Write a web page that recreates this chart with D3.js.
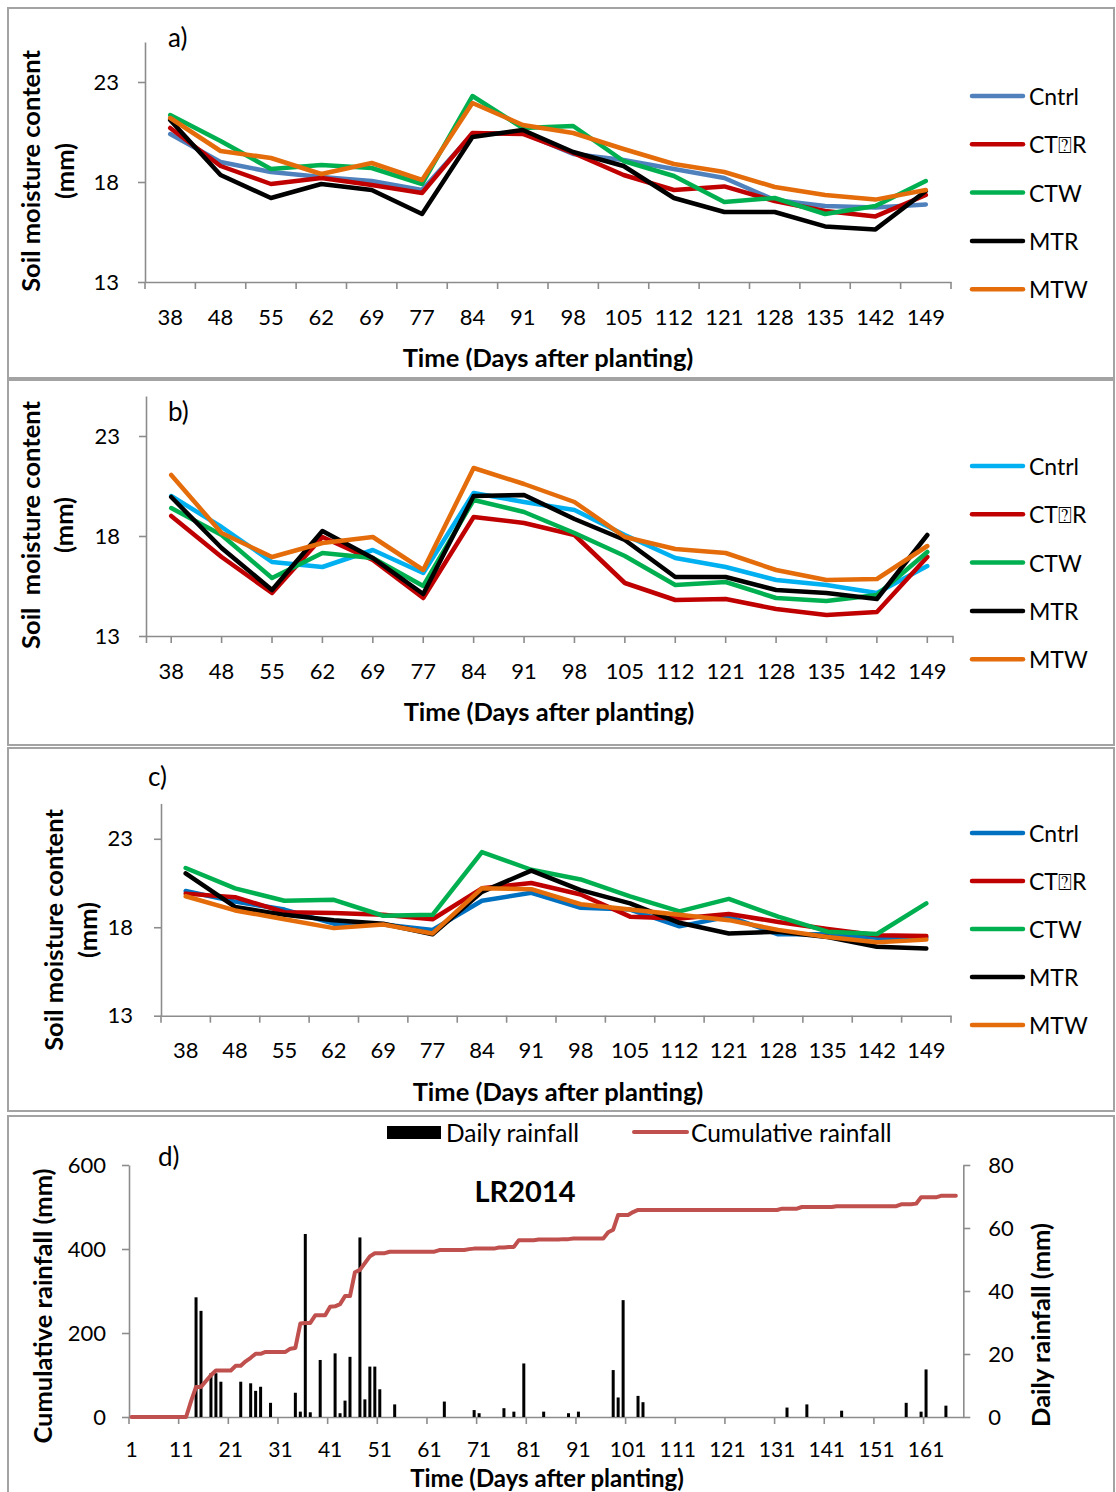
<!DOCTYPE html>
<html>
<head>
<meta charset="utf-8">
<script src="https://cdn.jsdelivr.net/npm/d3@7"></script>
<style>
  body { margin: 0; background: #fff; }
  svg { display: block; }
  text { font-family: Lato, "Open Sans", sans-serif; fill: #000; }
</style>
</head>
<body>
<svg id="chart" width="1116" height="1492"></svg>
<script>
// ---- Soil moisture data (mm), sampling days after planting ----
const sampleDays = ["38","48","55","62","69","77","84","91","98","105","112","121","128","135","142","149"];
const treatments = ["Cntrl", "CT\u2370R", "CTW", "MTR", "MTW"];
const moistureTicks = [13, 18, 23];

// a)
const cntrlA = [20.4, 19.0, 18.5, 18.25, 18.05, 17.6, 20.4, 20.45, 19.4, 19.1, 18.65, 18.2, 17.1, 16.8, 16.72, 16.88];
const ctrA   = [20.7, 18.8, 17.9, 18.2, 17.85, 17.45, 20.45, 20.4, 19.45, 18.35, 17.6, 17.78, 17.05, 16.55, 16.28, 17.35];
const ctwA   = [21.35, 20.05, 18.65, 18.85, 18.7, 17.9, 22.3, 20.7, 20.8, 19.05, 18.3, 17.0, 17.2, 16.4, 16.8, 18.05];
const mtrA   = [21.1, 18.35, 17.2, 17.9, 17.6, 16.4, 20.25, 20.6, 19.5, 18.8, 17.2, 16.5, 16.5, 15.78, 15.63, 17.55];
const mtwA   = [21.2, 19.55, 19.2, 18.4, 18.95, 18.1, 21.95, 20.85, 20.45, 19.65, 18.9, 18.5, 17.75, 17.35, 17.12, 17.6];

// b)
const cntrlB = [20.0, 18.45, 16.7, 16.45, 17.3, 16.15, 20.15, 19.7, 19.3, 18.05, 16.9, 16.45, 15.8, 15.55, 15.15, 16.5];
const ctrB   = [19.0, 16.95, 15.15, 17.95, 16.8, 14.9, 18.95, 18.65, 18.05, 15.65, 14.8, 14.85, 14.35, 14.05, 14.2, 16.95];
const ctwB   = [19.4, 18.05, 15.9, 17.15, 16.9, 15.5, 19.8, 19.2, 18.15, 17.0, 15.55, 15.7, 14.9, 14.75, 15.05, 17.2];
const mtrB   = [19.95, 17.4, 15.3, 18.25, 16.9, 15.1, 20.0, 20.05, 18.85, 17.8, 15.95, 15.95, 15.3, 15.15, 14.85, 18.05];
const mtwB   = [21.05, 18.15, 16.95, 17.65, 17.95, 16.3, 21.4, 20.6, 19.7, 17.95, 17.35, 17.15, 16.3, 15.8, 15.85, 17.5];

// c)
const cntrlC = [20.05, 19.45, 19.0, 18.2, 18.15, 17.85, 19.5, 19.95, 19.1, 19.0, 18.05, 18.6, 17.6, 17.6, 17.4, 17.4];
const ctrC   = [19.9, 19.7, 18.85, 18.8, 18.7, 18.45, 20.2, 20.5, 19.85, 18.6, 18.5, 18.75, 18.3, 17.9, 17.55, 17.5];
const ctwC   = [21.35, 20.2, 19.5, 19.55, 18.65, 18.7, 22.25, 21.25, 20.7, 19.75, 18.9, 19.6, 18.6, 17.75, 17.62, 19.35];
const mtrC   = [21.05, 19.15, 18.7, 18.4, 18.2, 17.6, 20.0, 21.2, 20.1, 19.35, 18.25, 17.65, 17.75, 17.45, 16.9, 16.8];
const mtwC   = [19.75, 18.95, 18.45, 17.95, 18.15, 17.65, 20.2, 20.15, 19.3, 19.0, 18.7, 18.4, 17.85, 17.45, 17.15, 17.3];

// ---- Rainfall, LR2014 ----
const seasonDays = d3.range(1, 169);            // days after planting shown on the axis
const rainDays = [14,15,17,18,19,23,25,26,27,29,34,35,36,37,39,42,43,44,45,47,48,49,50,51,54,
                  64,70,71,76,78,80,84,89,91,98,99,100,103,104,133,137,144,157,160,161,165];
const rainMm   = [38,33.7,13.9,13.9,11.2,11.2,10.7,8.3,9.6,4.5,7.7,1.7,58.1,1.5,18.1,20.2,1.2,5.2,19.1,57.0,5.6,16.0,16.0,8.8,4.0,
                  4.9,2.2,1.2,2.8,1.7,17.0,1.7,1.2,1.7,14.9,6.2,37.1,6.7,4.7,3.0,4.0,2.0,4.5,1.7,15.1,3.6];
// cumulative rainfall (mm) for days 1..167
const cumulativeMm = [
  0,0,0,0,0,0,0,0,0,0,0,0,
  38,71.7,71.7,85.6,99.5,110.7,110.7,110.7,110.7,121.9,121.9,132.6,140.9,150.5,150.5,
  155,155,155,155,155,162.7,164.4,222.5,224,224,242.1,242.1,242.1,262.3,263.5,268.7,287.8,287.8,
  344.8,350.4,366.4,382.4,390,390,390,
  393.5,393.5,393.5,393.5,393.5,393.5,393.5,393.5,393.5,393.5,
  397.5,397.5,397.5,397.5,397.5,397.5,399.7,400.9,400.9,400.9,400.9,400.9,403.5,403.5,405,405,
  421,421,421,421,422.5,422.5,422.5,422.5,422.5,423.5,423.5,425,425,425,425,425,425,425,
  440,446,481,481,481,488,
  493,493,493,493,493,493,493,493,493,493,493,493,493,493,493,493,493,493,493,493,
  493,493,493,493,493,493,493,493,493,
  496,496,496,496,500,500,500,500,500,500,500,
  502,502,502,502,502,502,502,502,502,502,502,502,502,
  506.5,506.5,506.5,508,523,523,523,523,526.5,526.5,526.5,526.5
];
const cumTicks = [0, 200, 400, 600];
const dailyTicks = [0, 20, 40, 60, 80];

// ---------------------------------------------------------------
const svg = d3.select("#chart");
const AXIS = "#8c8c8c";
const TICK_FONT = "22px";
const TITLE_FONT = "25.5px";

// panel frames
const frames = [
  {x: 8, y: 8, w: 1106, h: 370},
  {x: 8, y: 380, w: 1106, h: 365},
  {x: 8, y: 748, w: 1106, h: 363},
  {x: 8, y: 1116, w: 1106, h: 380}
];
svg.selectAll("rect.frame").data(frames).join("rect")
  .attr("class", "frame")
  .attr("x", d => d.x).attr("y", d => d.y)
  .attr("width", d => d.w).attr("height", d => d.h)
  .attr("fill", "none").attr("stroke", "#a3a3a3").attr("stroke-width", 2);

function styleAxis(g, size = TICK_FONT) {
  g.select(".domain").attr("stroke", AXIS).attr("stroke-width", 1.6);
  g.selectAll(".tick line").attr("stroke", AXIS).attr("stroke-width", 1.6);
  g.selectAll(".tick text").style("font-family", 'Lato, "Open Sans", sans-serif')
    .style("font-size", size).attr("fill", "#000");
}

function drawSoilPanel(p) {
  const g = svg.append("g");
  const x = d3.scaleBand().domain(sampleDays).range([p.x0, p.x1]);
  const y = d3.scaleLinear().domain([13, 25]).range([p.yB, p.yT]);
  const cx = c => x(c) + x.bandwidth() / 2;

  // y axis
  g.append("g").attr("transform", `translate(${p.x0},0)`)
    .call(d3.axisLeft(y).tickValues(moistureTicks).tickSize(7).tickSizeOuter(0).tickPadding(p.yPad))
    .call(styleAxis);

  // x axis
  const xg = g.append("g").attr("transform", `translate(0,${p.yB})`);
  if (p.centerTicks) {
    xg.call(d3.axisBottom(x).tickSize(7).tickSizeOuter(7).tickPadding(20)).call(styleAxis);
  } else {
    xg.call(d3.axisBottom(x).tickSize(0).tickSizeOuter(0).tickPadding(27)).call(styleAxis);
    xg.selectAll("line.bound").data(sampleDays.map(c => x(c)).concat([p.x1])).join("line")
      .attr("class", "bound")
      .attr("x1", d => d).attr("x2", d => d).attr("y1", 0).attr("y2", 7)
      .attr("stroke", AXIS).attr("stroke-width", 1.6);
  }

  // series lines
  const line = d3.line().x((v, i) => cx(sampleDays[i])).y(v => y(v));
  p.series.forEach((vals, i) => {
    g.append("path").datum(vals)
      .attr("d", line)
      .attr("fill", "none").attr("stroke", p.colors[i]).attr("stroke-width", 4.5)
      .attr("stroke-linejoin", "round").attr("stroke-linecap", "round");
  });

  // legend
  const lg = g.append("g");
  treatments.forEach((name, i) => {
    const ly = p.legY + i * p.legStep;
    lg.append("line").attr("x1", 972).attr("x2", 1023).attr("y1", ly).attr("y2", ly)
      .attr("stroke", p.colors[i]).attr("stroke-width", 4.5).attr("stroke-linecap", "round");
    lg.append("text").attr("x", 1029).attr("y", ly).attr("dominant-baseline", "central")
      .style("font-size", "23px").text(name);
  });

  // titles
  g.append("text").attr("x", p.letterX).attr("y", p.letterY).attr("dominant-baseline", "central")
    .style("font-size", "26px").text(p.letter);
  g.append("text").attr("x", p.xTitleX).attr("y", p.yB + 75).attr("text-anchor", "middle")
    .attr("dominant-baseline", "central").style("font-size", TITLE_FONT).style("font-weight", "bold")
    .text("Time (Days after planting)");
  p.yTitle.forEach((t, i) => {
    g.append("text")
      .attr("transform", `translate(${p.yTitleX[i]},${p.yTitleY}) rotate(-90)`)
      .attr("text-anchor", "middle").attr("dominant-baseline", "central")
      .style("font-size", TITLE_FONT).style("font-weight", "bold").style("white-space", "pre")
      .text(t);
  });
}

drawSoilPanel({
  series: [cntrlA, ctrA, ctwA, mtrA, mtwA],
  colors: ["#4F81BD", "#C00000", "#00B050", "#000000", "#E46C0A"],
  x0: 145, x1: 951, yB: 282, yT: 42, yPad: 19, centerTicks: false,
  legY: 96, legStep: 48.3,
  letter: "a)", letterX: 168, letterY: 37,
  xTitleX: 548, yTitleX: [30, 64], yTitleY: 171,
  yTitle: ["Soil moisture content", "(mm)"]
});

drawSoilPanel({
  series: [cntrlB, ctrB, ctwB, mtrB, mtwB],
  colors: ["#00B0F0", "#C00000", "#00B050", "#000000", "#E46C0A"],
  x0: 146, x1: 952.5, yB: 636, yT: 396, yPad: 19, centerTicks: true,
  legY: 466, legStep: 48.3,
  letter: "b)", letterX: 168, letterY: 411,
  xTitleX: 549, yTitleX: [30, 63], yTitleY: 525,
  yTitle: ["Soil  moisture content", "(mm)"]
});

drawSoilPanel({
  series: [cntrlC, ctrC, ctwC, mtrC, mtwC],
  colors: ["#0070C0", "#C00000", "#00B050", "#000000", "#E46C0A"],
  x0: 161, x1: 951, yB: 1015.7, yT: 803.4, yPad: 21, centerTicks: false,
  legY: 833, legStep: 48,
  letter: "c)", letterX: 148, letterY: 776,
  xTitleX: 558, yTitleX: [53, 87], yTitleY: 930,
  yTitle: ["Soil moisture content", "(mm)"]
});

// ---- d) rainfall panel ----
(function drawRainPanel() {
  const g = svg.append("g");
  const x0 = 129, x1 = 963.3, yB = 1417, yT = 1165;
  const x = d3.scaleBand().domain(seasonDays).range([x0, x1]);
  const cx = d => x(d) + x.bandwidth() / 2;
  const yCum = d3.scaleLinear().domain([0, 600]).range([yB, yT]);
  const yDay = d3.scaleLinear().domain([0, 80]).range([yB, yT]);

  g.append("g").attr("transform", `translate(${x0},0)`)
    .call(d3.axisLeft(yCum).tickValues(cumTicks).tickSize(7).tickSizeOuter(0).tickPadding(16))
    .call(styleAxis);
  g.append("g").attr("transform", `translate(${x1},0)`)
    .call(d3.axisRight(yDay).tickValues(dailyTicks).tickSize(7).tickSizeOuter(0).tickPadding(18))
    .call(styleAxis);

  const labelDays = d3.range(1, 162, 10);
  const xg = g.append("g").attr("transform", `translate(0,${yB})`)
    .call(d3.axisBottom(x).tickValues(labelDays).tickSize(0).tickSizeOuter(0).tickPadding(25))
    .call(styleAxis, "21px");
  xg.selectAll("line.bound").data(labelDays).join("line")
    .attr("class", "bound")
    .attr("x1", d => x(d)).attr("x2", d => x(d)).attr("y1", 0).attr("y2", 7)
    .attr("stroke", AXIS).attr("stroke-width", 1.6);

  // daily rainfall bars
  const bw = 3;
  g.selectAll("rect.rain").data(rainDays).join("rect")
    .attr("class", "rain")
    .attr("x", d => cx(d) - bw / 2).attr("width", bw)
    .attr("y", (d, i) => yDay(rainMm[i]))
    .attr("height", (d, i) => yB - yDay(rainMm[i]))
    .attr("fill", "#000");

  // cumulative rainfall line
  const line = d3.line().x((v, i) => cx(seasonDays[i])).y(v => yCum(v));
  g.append("path").datum(cumulativeMm).attr("d", line)
    .attr("fill", "none").attr("stroke", "#C0504D").attr("stroke-width", 4)
    .attr("stroke-linejoin", "round").attr("stroke-linecap", "round");

  // legend
  g.append("rect").attr("x", 387).attr("y", 1126).attr("width", 54).attr("height", 13).attr("fill", "#000");
  g.append("text").attr("x", 446).attr("y", 1132).attr("dominant-baseline", "central")
    .style("font-size", "24.5px").text("Daily rainfall");
  g.append("line").attr("x1", 634).attr("x2", 687).attr("y1", 1132).attr("y2", 1132)
    .attr("stroke", "#C0504D").attr("stroke-width", 4).attr("stroke-linecap", "round");
  g.append("text").attr("x", 691).attr("y", 1132).attr("dominant-baseline", "central")
    .style("font-size", "24.5px").text("Cumulative rainfall");

  g.append("text").attr("x", 158).attr("y", 1156).attr("dominant-baseline", "central")
    .style("font-size", "26px").text("d)");
  g.append("text").attr("x", 525).attr("y", 1190).attr("text-anchor", "middle")
    .attr("dominant-baseline", "central").style("font-size", "29px").style("font-weight", "bold")
    .text("LR2014");

  g.append("text").attr("x", 547).attr("y", 1477).attr("text-anchor", "middle")
    .attr("dominant-baseline", "central").style("font-size", "24px").style("font-weight", "bold")
    .text("Time (Days after planting)");
  g.append("text").attr("transform", "translate(42,1306) rotate(-90)")
    .attr("text-anchor", "middle").attr("dominant-baseline", "central")
    .style("font-size", TITLE_FONT).style("font-weight", "bold").text("Cumulative rainfall (mm)");
  g.append("text").attr("transform", "translate(1040,1325) rotate(-90)")
    .attr("text-anchor", "middle").attr("dominant-baseline", "central")
    .style("font-size", TITLE_FONT).style("font-weight", "bold").text("Daily rainfall (mm)");
})();
</script>
</body>
</html>
